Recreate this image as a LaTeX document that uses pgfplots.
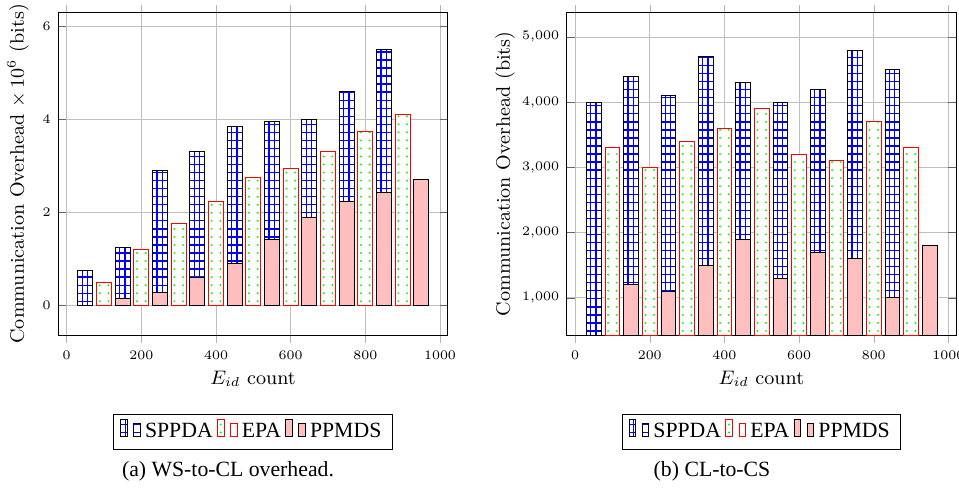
\documentclass[border=0pt]{standalone}
\usepackage{fontspec}
\usepackage{pgfplots}
\pgfplotsset{compat=1.18}
\newfontfamily\timesf{Liberation Serif}

\pgfplotsset{
  myax/.style={
    scale only axis, width=179.12pt, height=148.26pt,
    xmin=-22.5, xmax=1020.6, xtick={0,200,...,1000},
    grid=major,
    ybar, bar width=40,
    tick label style={font=\fontsize{5.8}{7}\selectfont},
    xticklabel style={/pgf/number format/1000 sep={}},
    label style={font=\fontsize{9}{11}\selectfont},
    xlabel={$E_{id}$ count},
    xlabel style={at={(axis description cs:0.5,-0.1365)}, anchor=center},
    major tick length=3.7pt,
    xtick align=outside, xtick pos=both,
    xtick style={black!30},
    ytick style={black!60},
    legend columns=3,
    legend style={at={(0.5,-0.301)}, anchor=center, draw=black,
      font=\timesf\fontsize{10}{12}\selectfont},
  },
  sppda/.style={bar shift=0pt, draw=black, fill=white,
    path picture={
      \color{blue}%
      \foreach \j in {0,...,45}
        \draw[path picture={}, color=blue, fill=none, line width=0.6pt]
          ([yshift=\j*3.7pt+1.85pt]path picture bounding box.south west) --
          ([yshift=\j*3.7pt+1.85pt]path picture bounding box.south east);
      \foreach \k in {0,...,8}
        \foreach \o in {2.06,4.46}
          \draw[path picture={}, color=blue, fill=none, line width=0.6pt]
            ([xshift=\k*17.172pt+\o pt]path picture bounding box.south west) --
            ([xshift=\k*17.172pt+\o pt]path picture bounding box.north west);
    }},
  epa/.style={bar shift=0pt, draw=red, fill=white,
    path picture={
      \color{green}%
      \foreach \k in {0,...,8}
        \foreach \o in {1.45,5.45}
          \foreach \j in {0,...,45}
            \fill[path picture={}, color=green, draw=none]
              ([xshift=\k*17.172pt+\o pt, yshift=\j*3.7pt+1.85pt]path picture bounding box.south west)
              circle[radius=0.5pt];
    }},
  ppmds/.style={bar shift=0pt, draw=black, fill=red!25},
}

\begin{document}
\begin{tikzpicture}
\useasboundingbox (0,0) rectangle (441.14pt,225.86pt);

\begin{axis}[myax, at={(26.82pt,71.76pt)}, anchor=south west,
  ymin=-0.64, ymax=6.3, ytick={0,2,4,6},
  ylabel={Communication Overhead $\times\,10^6$ (bits)},
  ylabel style={at={(axis description cs:-0.1035,0.5)}, anchor=center},
]
\addplot[sppda] coordinates {(50,0.75) (150,1.25) (250,2.91) (350,3.31) (450,3.86) (550,3.95) (650,4.0) (750,4.6) (850,5.5)};
\addplot[epa] coordinates {(100,0.5) (200,1.2) (300,1.77) (400,2.24) (500,2.75) (600,2.95) (700,3.31) (800,3.75) (900,4.1)};
\addplot[ppmds] coordinates {(150,0.15) (250,0.28) (350,0.61) (450,0.9) (550,1.41) (650,1.9) (750,2.24) (850,2.44) (950,2.7)};
\legend{SPPDA,EPA,PPMDS}
\end{axis}

\begin{axis}[myax, at={(260.68pt,71.76pt)}, anchor=south west,
  ymin=428, ymax=5373, ytick={1000,2000,3000,4000,5000},
  ylabel={Communication Overhead (bits)},
  ylabel style={at={(axis description cs:-0.1585,0.5)}, anchor=center},
]
\addplot[sppda] coordinates {(50,4000) (150,4400) (250,4100) (350,4700) (450,4300) (550,4000) (650,4200) (750,4800) (850,4500)};
\addplot[epa] coordinates {(100,3300) (200,3000) (300,3400) (400,3600) (500,3900) (600,3200) (700,3100) (800,3700) (900,3300)};
\addplot[ppmds] coordinates {(150,1200) (250,1100) (350,1500) (450,1900) (550,1300) (650,1700) (750,1600) (850,1000) (950,1800)};
\legend{SPPDA,EPA,PPMDS}
\end{axis}

\node[font=\timesf\fontsize{10}{12}\selectfont] at (104.88pt,9.0pt) {(a) WS-to-CL overhead.};
\node[font=\timesf\fontsize{10}{12}\selectfont] at (327.52pt,9.0pt) {(b) CL-to-CS};
\end{tikzpicture}
\end{document}
